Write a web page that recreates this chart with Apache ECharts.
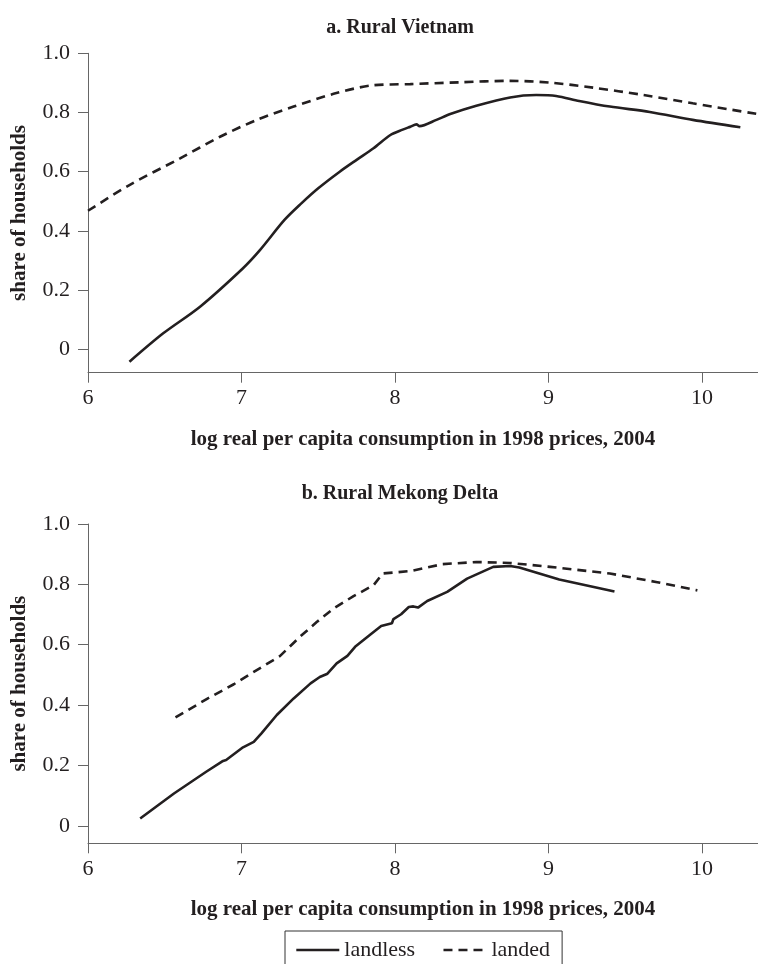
<!DOCTYPE html>
<html>
<head>
<meta charset="utf-8">
<script src="https://cdn.jsdelivr.net/npm/echarts@6/dist/echarts.min.js"></script>
<style>html,body{margin:0;padding:0;background:#fff;}#c{width:758px;height:964px;}</style>
</head>
<body>
<div id="c"></div>
<script>
// Panel a: Rural Vietnam
const xA_landless = [6.27, 6.49, 6.73, 7.01, 7.12, 7.28, 7.39, 7.50, 7.64, 7.75, 7.86, 7.97, 8.05, 8.10, 8.14, 8.16, 8.27, 8.36, 8.53, 8.75, 8.92, 9.05, 9.20, 9.40, 9.66, 9.94, 10.25];
const yA_landless = [-0.042, 0.054, 0.144, 0.274, 0.335, 0.437, 0.493, 0.544, 0.600, 0.640, 0.679, 0.724, 0.742, 0.752, 0.760, 0.754, 0.775, 0.795, 0.823, 0.851, 0.859, 0.856, 0.839, 0.820, 0.802, 0.775, 0.750];
const xA_landed = [6.0, 6.27, 6.60, 6.86, 7.10, 7.34, 7.60, 7.84, 8.10, 8.42, 8.75, 9.01, 9.29, 9.62, 9.94, 10.36];
const yA_landed = [0.468, 0.555, 0.645, 0.718, 0.775, 0.820, 0.863, 0.891, 0.896, 0.902, 0.907, 0.901, 0.884, 0.859, 0.831, 0.795];
// Panel b: Rural Mekong Delta
const xB_landless = [6.34, 6.56, 6.77, 6.88, 6.90, 7.01, 7.08, 7.13, 7.23, 7.34, 7.45, 7.51, 7.56, 7.62, 7.69, 7.74, 7.84, 7.91, 7.98, 7.99, 8.04, 8.09, 8.12, 8.15, 8.21, 8.34, 8.47, 8.64, 8.75, 8.81, 9.07, 9.43];
const yB_landless = [0.024, 0.107, 0.179, 0.215, 0.218, 0.260, 0.278, 0.306, 0.367, 0.422, 0.472, 0.493, 0.504, 0.538, 0.563, 0.593, 0.634, 0.662, 0.671, 0.685, 0.701, 0.725, 0.727, 0.723, 0.745, 0.775, 0.819, 0.858, 0.861, 0.856, 0.816, 0.776];
const xB_landed = [6.57, 6.77, 6.95, 7.08, 7.25, 7.38, 7.49, 7.60, 7.73, 7.86, 7.92, 8.10, 8.31, 8.53, 8.75, 9.01, 9.40, 9.70, 9.97];
const yB_landed = [0.359, 0.419, 0.469, 0.510, 0.562, 0.626, 0.675, 0.720, 0.761, 0.797, 0.836, 0.844, 0.867, 0.874, 0.871, 0.858, 0.836, 0.808, 0.780];

const xTicks = [6, 7, 8, 9, 10];
const yTicks = [0, 0.2, 0.4, 0.6, 0.8, 1.0];
const titles = ['a. Rural Vietnam', 'b. Rural Mekong Delta'];
const xName = 'log real per capita consumption in 1998 prices, 2004';
const yName = 'share of households';
const seriesNames = ['landless', 'landed'];

const ink = '#231f20';
const axisGray = '#666';
const FONT = '"Liberation Serif", "DejaVu Serif", serif';

function pairs(xs, ys) { return xs.map((x, i) => [x, ys[i]]); }

function xAxisCfg(idx) {
  return {
    type: 'value', gridIndex: idx, min: 6, max: 10.365,
    name: xName, nameLocation: 'middle', nameGap: 56,
    nameTextStyle: { fontFamily: FONT, fontSize: 21, fontWeight: 'bold', color: ink },
    axisLine: { onZero: false, lineStyle: { color: axisGray, width: 1 } },
    axisTick: { length: 10, lineStyle: { color: axisGray }, customValues: xTicks },
    axisLabel: { customValues: xTicks, margin: 15, fontFamily: FONT, fontSize: 22, color: ink },
    splitLine: { show: false }
  };
}
function yAxisCfg(idx, min) {
  return {
    type: 'value', gridIndex: idx, min: min, max: 1.0,
    name: yName, nameLocation: 'middle', nameGap: 58,
    nameTextStyle: { fontFamily: FONT, fontSize: 21, fontWeight: 'bold', color: ink },
    axisLine: { show: true, onZero: false, lineStyle: { color: axisGray, width: 1 } },
    axisTick: { show: true, length: 10, lineStyle: { color: axisGray }, customValues: yTicks },
    axisLabel: { customValues: yTicks, margin: 18, fontFamily: FONT, fontSize: 22, color: ink,
      formatter: v => (Math.abs(v) < 1e-9 ? '0' : v.toFixed(1)) },
    splitLine: { show: false }
  };
}
function lineSeries(name, data, idx, dashed, smooth) {
  return {
    name: name, type: 'line', xAxisIndex: idx, yAxisIndex: idx,
    data: data, showSymbol: false, symbol: 'none', smooth: smooth,
    lineStyle: { color: ink, width: 2.6, type: dashed ? [9, 6] : 'solid' },
    itemStyle: { color: ink },
    animation: false
  };
}

const chart = echarts.init(document.getElementById('c'), null, { renderer: 'canvas' });
chart.setOption({
  backgroundColor: '#fff',
  animation: false,
  title: [
    { text: titles[0], left: 395, top: 13, textAlign: 'center',
      textStyle: { fontFamily: FONT, fontSize: 20, fontWeight: 'bold', color: ink } },
    { text: titles[1], left: 395, top: 479, textAlign: 'center',
      textStyle: { fontFamily: FONT, fontSize: 20, fontWeight: 'bold', color: ink } }
  ],
  grid: [
    { left: 88, right: 0, top: 53.3, height: 319.4 },
    { left: 88, right: 0, top: 524, height: 319.3 }
  ],
  xAxis: [xAxisCfg(0), xAxisCfg(1)],
  yAxis: [yAxisCfg(0, -0.079), yAxisCfg(1, -0.058)],
  legend: {
    data: seriesNames, left: 285, top: 931, orient: 'horizontal',
    padding: [8, 12, 30, 10], itemWidth: 43, itemHeight: 26, itemGap: 27,
    borderColor: '#333', borderWidth: 1, backgroundColor: '#fff',
    itemStyle: { opacity: 0, borderWidth: 0 },
    lineStyle: { width: 2.6 },
    textStyle: { fontFamily: FONT, fontSize: 22, color: ink }
  },
  series: [
    lineSeries(seriesNames[0], pairs(xA_landless, yA_landless), 0, false, 0.3),
    lineSeries(seriesNames[1], pairs(xA_landed, yA_landed), 0, true, 0.3),
    lineSeries(seriesNames[0], pairs(xB_landless, yB_landless), 1, false, false),
    lineSeries(seriesNames[1], pairs(xB_landed, yB_landed), 1, true, false)
  ]
});
</script>
</body>
</html>
